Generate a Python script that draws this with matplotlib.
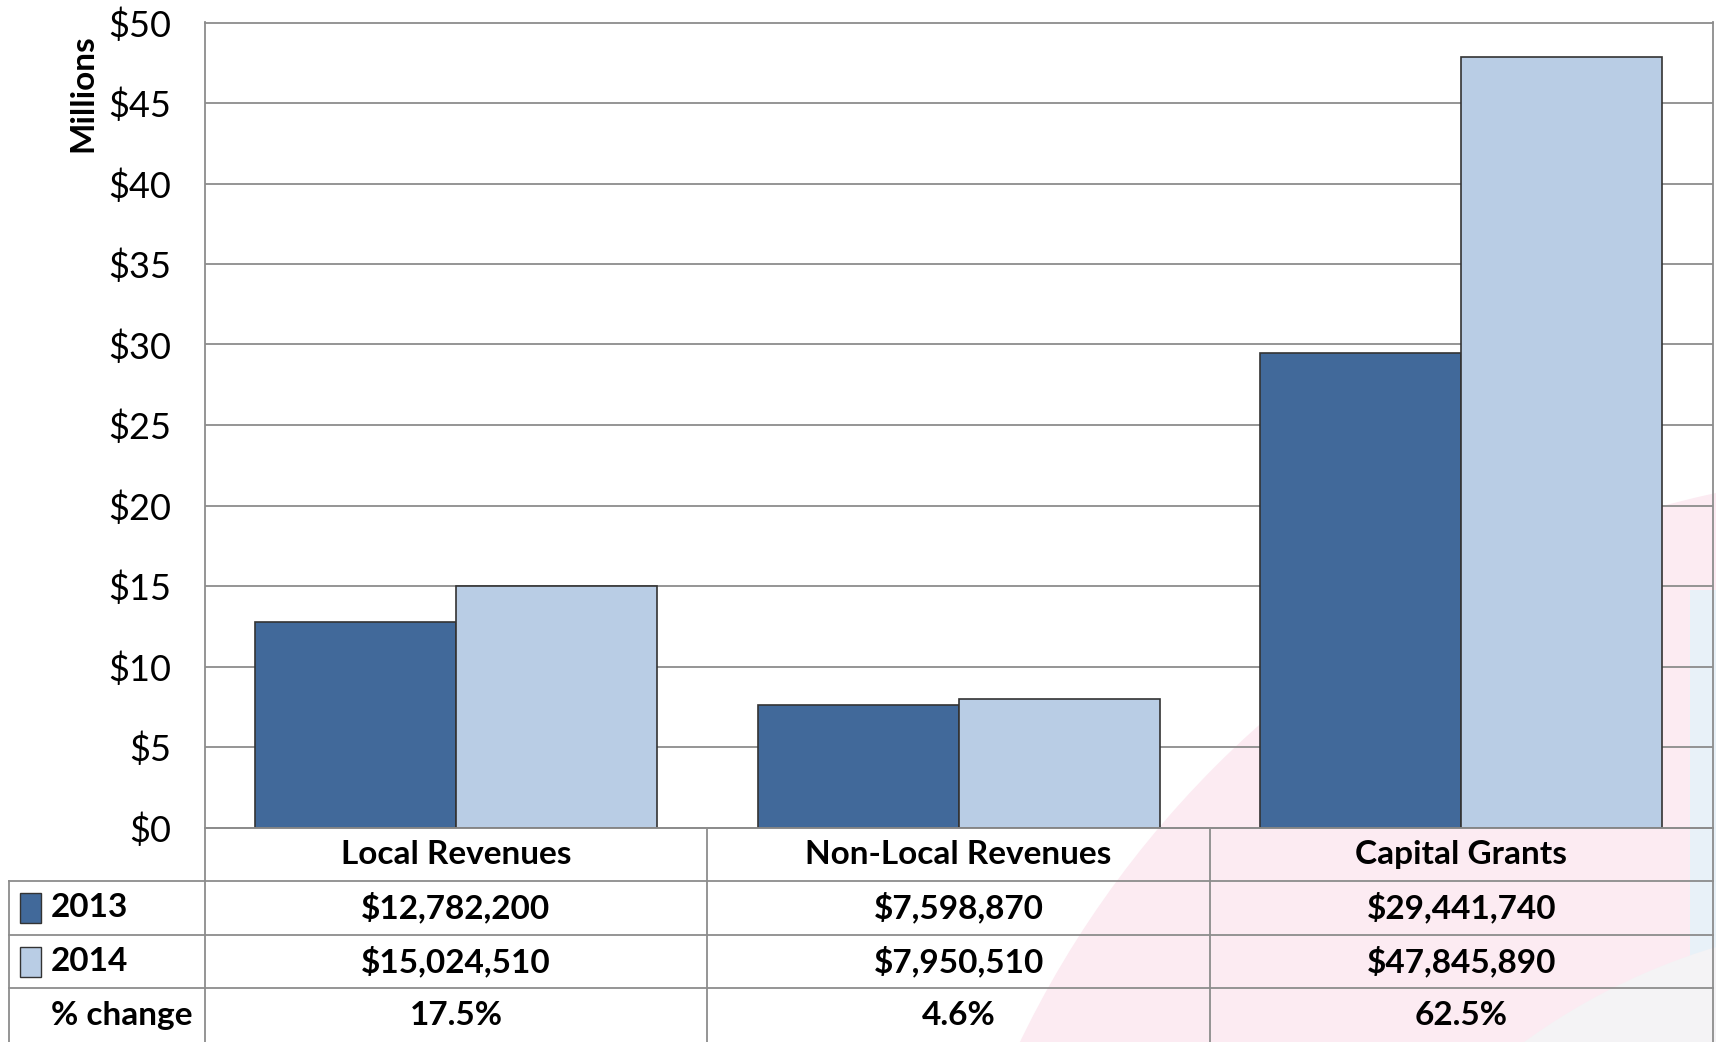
import numpy as np
import matplotlib.pyplot as plt
from matplotlib.patches import Circle, Rectangle

categories = ['Local Revenues', 'Non-Local Revenues', 'Capital Grants']
series_names = ['2013', '2014']
values_2013 = [12782200, 7598870, 29441740]
values_2014 = [15024510, 7950510, 47845890]
pct_change = ['17.5%', '4.6%', '62.5%']
y_ticks = [0, 5, 10, 15, 20, 25, 30, 35, 40, 45, 50]

dark = '#41699A'
light = '#B9CDE5'
grid_col = '#8C8C8C'
font = ['Lato', 'DejaVu Sans']

W, H = 1716, 1042
fig = plt.figure(figsize=(W / 100, H / 100), dpi=100)
fig.patch.set_facecolor('white')

# faint background swoosh
bg = fig.add_axes([0, 0, 1, 1], zorder=-10)
bg.set_xlim(0, W)
bg.set_ylim(H, 0)
bg.axis('off')
bg.add_patch(Circle((1930, 1480), 1010, color='#FCEBF2', lw=0))
bg.add_patch(Rectangle((1690, 590), 30, 400, color='#E8F1F8', lw=0))
bg.add_patch(Circle((1900, 1560), 640, color='#F4F3F5', lw=0))

left, right, top, bottom = 204.7, 1712.5, 22.5, 827.5
ax = fig.add_axes([left / W, (H - bottom) / H, (right - left) / W, (bottom - top) / H])
ax.set_facecolor('none')

x = np.arange(len(categories))
w = 0.4
ax.bar(x - w / 2, np.array(values_2013) / 1e6, w, color=dark, edgecolor='#333333', lw=1.2, zorder=3)
ax.bar(x + w / 2, np.array(values_2014) / 1e6, w, color=light, edgecolor='#333333', lw=1.2, zorder=3)

ax.set_xlim(-0.5, 2.5)
ax.set_ylim(0, 50)
ax.set_yticks(y_ticks)
ax.set_yticklabels(['$%d' % t for t in y_ticks], fontfamily=font, fontsize=26)
ax.set_xticks([])
ax.tick_params(axis='y', length=0, pad=24)
ax.grid(axis='y', color=grid_col, lw=1.3, zorder=0)
for s in ax.spines.values():
    s.set_color(grid_col)
    s.set_linewidth(1.3)
ax.set_ylabel('Millions', fontfamily=font, fontsize=24, fontweight='bold')
ax.yaxis.set_label_coords(-0.071, 0.912)

# data table under the chart
tab = fig.add_axes([left / W, 0, (right - left) / W, (H - bottom) / H])
tab.set_xlim(-0.5, 2.5)
tab.set_ylim(4, 0)
tab.axis('off')
unit = (right - left) / 3
lx = -0.5 - (left - 9) / unit
kw = dict(color=grid_col, lw=1.3, clip_on=False)
tab.plot([-0.5, 2.5], [0, 0], **kw)
for r in [1, 2, 3]:
    tab.plot([lx, 2.5], [r, r], **kw)
for c in [-0.5, 0.5, 1.5, 2.5]:
    tab.plot([c, c], [0, 4], **kw)
tab.plot([lx, lx], [1, 4], **kw)

fs = 24
tkw = dict(fontfamily=font, fontsize=fs, fontweight='bold', ha='center', va='center')
for i, cat in enumerate(categories):
    tab.text(i, 0.5, cat, **tkw)
    tab.text(i, 1.5, '${:,}'.format(values_2013[i]), **tkw)
    tab.text(i, 2.5, '${:,}'.format(values_2014[i]), **tkw)
    tab.text(i, 3.5, pct_change[i], **tkw)

tx = lx + 42 / unit
for r, (name, col) in enumerate(zip(series_names, [dark, light])):
    tab.add_patch(Rectangle((lx + 11 / unit, 1.5 + r - 0.28), 21 / unit, 0.56, facecolor=col,
                            edgecolor='#333333', lw=1, clip_on=False))
    tab.text(tx, 1.5 + r, name, fontfamily=font, fontsize=fs, fontweight='bold',
             ha='left', va='center', clip_on=False)
tab.text(tx, 3.5, '% change', fontfamily=font, fontsize=fs, fontweight='bold',
         ha='left', va='center', clip_on=False)

fig.savefig('out.png', dpi=100)
